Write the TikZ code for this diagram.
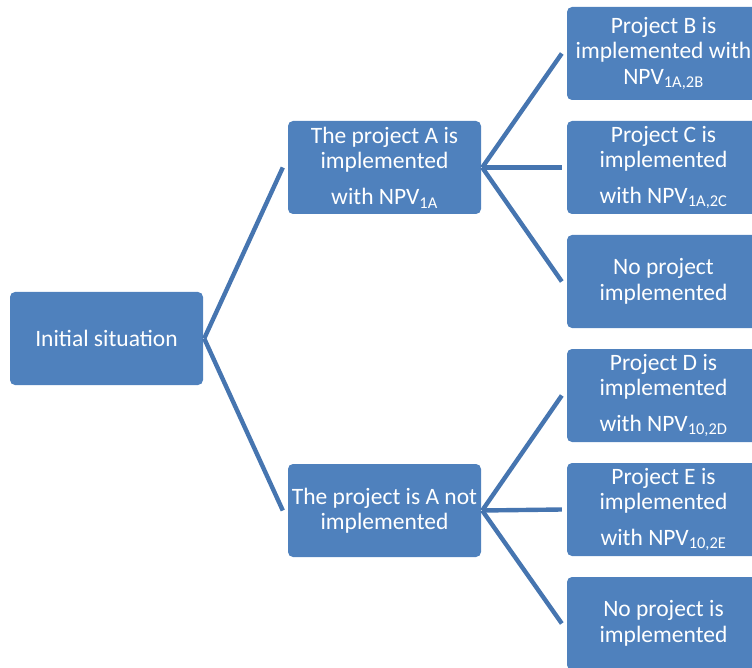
\documentclass[tikz,border=0pt]{standalone}
\usepackage{fontspec}
\setmainfont{Carlito}
\usepackage{xcolor}

\definecolor{boxblue}{HTML}{4F81BD}
\definecolor{linkblue}{HTML}{4675B0}

\tikzset{
    choice/.style={draw=none, fill=boxblue, rounded corners=5pt, text=white,
        minimum width=193pt, minimum height=93pt, inner sep=1pt,
        align=center, font=\fontsize{23.5}{25.5}\selectfont},
    branch/.style={draw=linkblue, line width=4.4pt}
}

\begin{document}
\begin{tikzpicture}[x=1pt, y=-1pt]
        \useasboundingbox (0,0) rectangle (752,668);
        \node[choice] (init) at (106.5,338.5) {Initial situation};
        \node[choice] (pA) at (384.5,167.5) {The project A is\\implemented\\[10pt]with NPV\textsubscript{1A}};
        \node[choice] (pN) at (384.5,510.5) {The project is A not\\implemented};
        \node[choice] (rB) at (663.5,53.5) {Project B is\\implemented with\\NPV\textsubscript{1A,2B}};
        \node[choice] (rC) at (663.5,167.5) {Project C is\\implemented\\[10pt]with NPV\textsubscript{1A,2C}};
        \node[choice] (rX) at (663.5,281.5) {No project\\implemented};
        \node[choice] (rD) at (663.5,395.5) {Project D is\\implemented\\[10pt]with NPV\textsubscript{10,2D}};
        \node[choice] (rE) at (663.5,509.5) {Project E is\\implemented\\[10pt]with NPV\textsubscript{10,2E}};
        \node[choice] (rY) at (663.5,623.5) {No project is\\implemented};
        \draw[branch] ([xshift=1pt]init.east) -- ([xshift=-5pt]pA.west);
        \draw[branch] ([xshift=1pt]init.east) -- ([xshift=-5pt]pN.west);
        \draw[branch] ([xshift=1pt]pA.east) -- ([xshift=-5pt]rB.west);
        \draw[branch] ([xshift=1pt]pA.east) -- ([xshift=-5pt]rC.west);
        \draw[branch] ([xshift=1pt]pA.east) -- ([xshift=-5pt]rX.west);
        \draw[branch] ([xshift=1pt]pN.east) -- ([xshift=-5pt]rD.west);
        \draw[branch] ([xshift=1pt]pN.east) -- ([xshift=-5pt]rE.west);
        \draw[branch] ([xshift=1pt]pN.east) -- ([xshift=-5pt]rY.west);
    \end{tikzpicture}
\end{document}
